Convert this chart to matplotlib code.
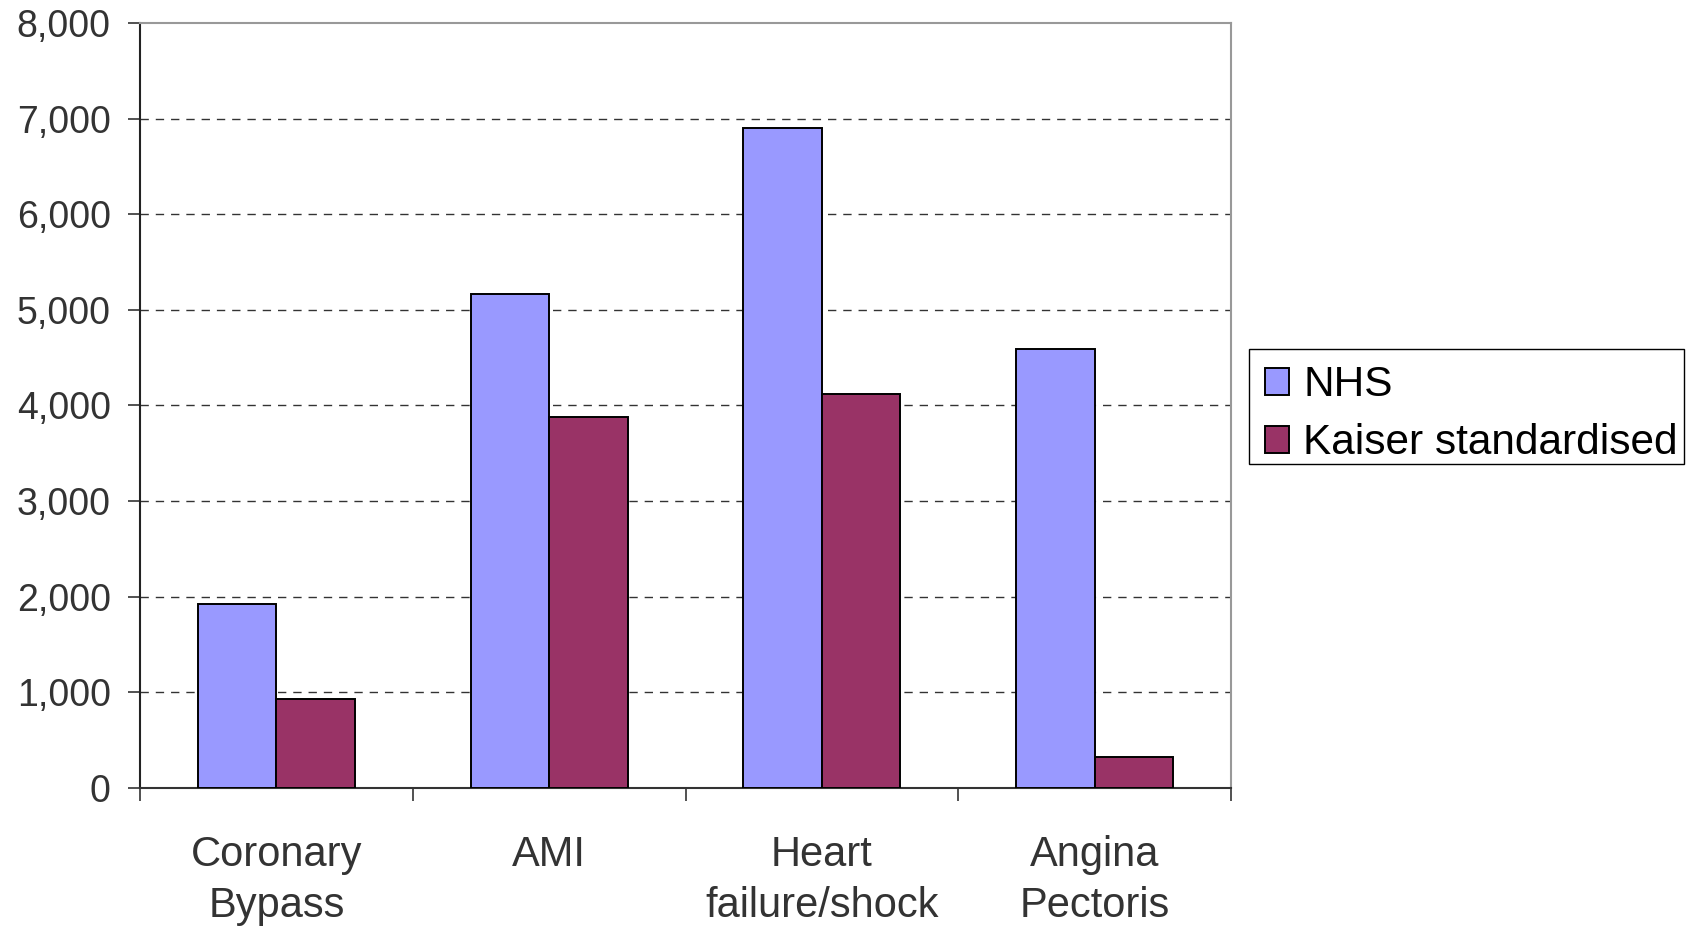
import matplotlib
matplotlib.use("Agg")
import matplotlib.pyplot as plt
from matplotlib.patches import Rectangle
import numpy as np

categories = ["Coronary\nBypass", "AMI", "Heart\nfailure/shock", "Angina\nPectoris"]
nhs = [1920, 5160, 6900, 4590]
kaiser = [930, 3880, 4120, 325]
yticks = [0, 1000, 2000, 3000, 4000, 5000, 6000, 7000, 8000]
ytick_labels = ["0", "1,000", "2,000", "3,000", "4,000", "5,000", "6,000", "7,000", "8,000"]
series_names = ["NHS", "Kaiser standardised"]

plt.rcParams['font.family'] = ['Liberation Sans', 'DejaVu Sans']

W, H = 1696, 932
fig = plt.figure(figsize=(W / 100, H / 100), dpi=100)
ax = fig.add_axes([140 / W, 1 - 787.7 / H, (1231 - 140) / W, (787.7 - 22.9) / H])

x = np.arange(len(categories))
bw = 0.288
ax.bar(x - bw / 2, nhs, bw, color="#9999FF", edgecolor="black", linewidth=1.4,
       label=series_names[0], zorder=3)
ax.bar(x + bw / 2, kaiser, bw, color="#993366", edgecolor="black", linewidth=1.4,
       label=series_names[1], zorder=3)

ax.set_xlim(-0.5, len(categories) - 0.5)
ax.set_ylim(0, 8000)
ax.set_yticks(yticks)
ax.set_yticklabels(ytick_labels)
for yv in yticks[1:-1]:
    ax.axhline(yv, color="#333333", linestyle=(0, (6, 5)), linewidth=1.0, zorder=1)

# x ticks at category boundaries, labels at centres
ax.set_xticks(np.arange(len(categories) + 1) - 0.5)
ax.set_xticklabels([])
ax.set_xticks(x, minor=True)
ax.set_xticklabels(categories, minor=True)
ax.tick_params(axis="x", which="minor", length=0, pad=34, labelsize=30,
               labelcolor="#333333")
ax.tick_params(axis="x", which="major", length=9, width=1.2, color="#333333",
               direction="out")
ax.tick_params(axis="y", length=9, width=1.2, color="#333333", direction="out",
               pad=12, labelsize=27, labelcolor="#333333")
for lbl in ax.get_xticklabels(minor=True):
    lbl.set_linespacing(1.36)

ax.spines["left"].set_color("#222222")
ax.spines["left"].set_linewidth(1.5)
ax.spines["bottom"].set_color("#333333")
ax.spines["bottom"].set_linewidth(1.5)
ax.spines["top"].set_color("#999999")
ax.spines["top"].set_linewidth(1.5)
ax.spines["right"].set_color("#999999")
ax.spines["right"].set_linewidth(1.5)

# legend frame drawn separately
fig.patches.append(Rectangle((1249 / W, 1 - 464 / H), (1684 - 1249) / W, (464 - 349) / H,
                             transform=fig.transFigure, facecolor="white",
                             edgecolor="black", linewidth=1.0, zorder=0))
leg = fig.legend(loc="upper left", bbox_to_anchor=((1248 + 8.5) / W, 1 - (349 + 7.6) / H),
                 bbox_transform=fig.transFigure, borderaxespad=0,
                 fontsize=30.5, frameon=False,
                 handlelength=0.57, handleheight=0.6, handletextpad=0.33,
                 labelspacing=0.43, borderpad=0.2)

fig.savefig("out.png", dpi=100, facecolor="white")
